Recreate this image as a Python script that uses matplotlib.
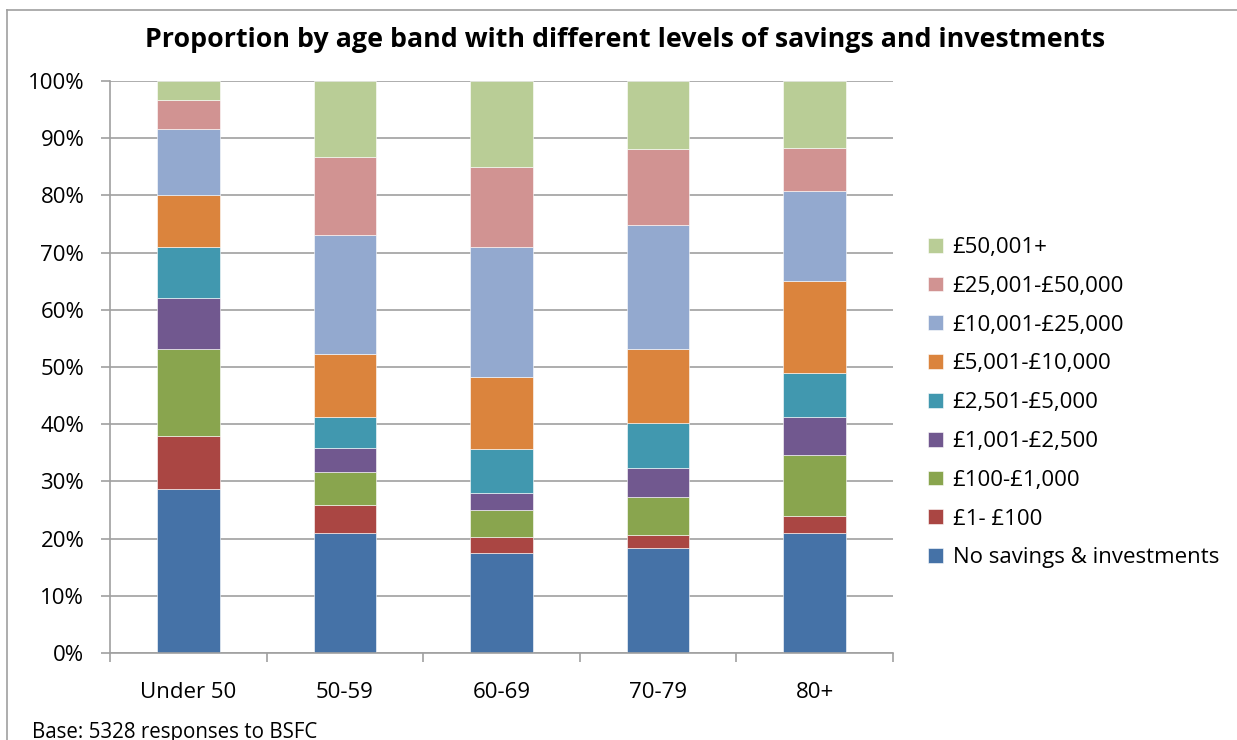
import numpy as np
import matplotlib.pyplot as plt
from matplotlib.lines import Line2D

plt.rcParams['font.family'] = ['Open Sans', 'DejaVu Sans']

age_bands = ['Under 50', '50-59', '60-69', '70-79', '80+']

# share of each age band (%) in each savings level, bottom of the stack first
levels = ['No savings & investments', '£1- £100', '£100-£1,000', '£1,001-£2,500',
          '£2,501-£5,000', '£5,001-£10,000', '£10,001-£25,000',
          '£25,001-£50,000', '£50,001+']
no_savings = [28.6, 20.9, 17.4, 18.4, 20.9]
up_to_100 = [9.4, 4.9, 2.9, 2.3, 3.1]
up_to_1000 = [15.1, 5.8, 4.7, 6.5, 10.6]
up_to_2500 = [8.9, 4.2, 2.9, 5.2, 6.6]
up_to_5000 = [8.9, 5.4, 7.7, 7.8, 7.8]
up_to_10000 = [9.2, 11.0, 12.6, 13.0, 16.1]
up_to_25000 = [11.5, 20.9, 22.7, 21.6, 15.6]
up_to_50000 = [5.1, 13.6, 14.1, 13.3, 7.6]
over_50000 = [3.3, 13.3, 15.0, 11.9, 11.7]

series = [no_savings, up_to_100, up_to_1000, up_to_2500, up_to_5000,
          up_to_10000, up_to_25000, up_to_50000, over_50000]
colors = ['#4572A7', '#AA4643', '#89A54E', '#71588F', '#4198AF',
          '#DB843D', '#93A9CF', '#D19392', '#B9CD96']

fig = plt.figure(figsize=(12.37, 7.40), dpi=100)
ax = fig.add_axes([110 / 1237, 87 / 740, 783 / 1237, 572 / 740])

x = np.arange(len(age_bands))
bottom = np.zeros(len(age_bands))
handles = []
for vals, col, lab in zip(series, colors, levels):
    vals = np.array(vals)
    h = ax.bar(x, vals, 0.4, bottom=bottom, color=col, label=lab,
               edgecolor='#ffffff', linewidth=0.4)
    handles.append(h)
    bottom += vals

ax.set_xlim(-0.5, len(age_bands) - 0.5)
ax.set_ylim(0, 100)
ax.set_yticks(np.arange(0, 101, 10))
ax.set_yticklabels([f'{v}%' for v in range(0, 101, 10)], fontsize=16)
ax.yaxis.grid(True, color='#a0a0a0', linewidth=1.2)
ax.set_axisbelow(True)

ax.set_xticks(x)
ax.set_xticklabels(age_bands, fontsize=16)
ax.set_xticks(np.arange(-0.5, len(age_bands)), minor=True)
ax.tick_params(axis='x', which='major', length=0, pad=21)
ax.tick_params(axis='x', which='minor', length=6.5, color='#a0a0a0', width=1.2)
ax.tick_params(axis='y', length=6.5, color='#a0a0a0', width=1.2, pad=12)

for s in ['top', 'right']:
    ax.spines[s].set_visible(False)
for s in ['left', 'bottom']:
    ax.spines[s].set_color('#a0a0a0')
    ax.spines[s].set_linewidth(1.2)

fig.text(625 / 1237, 1 - 40 / 740,
         'Proportion by age band with different levels of savings and investments',
         ha='center', va='center', fontsize=19.3, fontweight='bold')

fig.legend(handles[::-1], levels[::-1], loc='upper left',
           bbox_to_anchor=(917 / 1237, 1 - 226 / 740), frameon=False,
           fontsize=16, handlelength=0.65, handleheight=0.65,
           handletextpad=0.45, labelspacing=0.8, borderpad=0)

fig.text(32 / 1237, 1 - 738 / 740, 'Base: 5328 responses to BSFC',
         ha='left', va='baseline', fontsize=14.8)

# chart frame
fig.add_artist(Line2D([7 / 1237, 7 / 1237], [0, 1 - 10 / 740],
                      color='#a0a0a0', linewidth=1.2))
fig.add_artist(Line2D([7 / 1237, 1], [1 - 10 / 740, 1 - 10 / 740],
                      color='#a0a0a0', linewidth=1.2))

fig.savefig('out.png', dpi=100)
